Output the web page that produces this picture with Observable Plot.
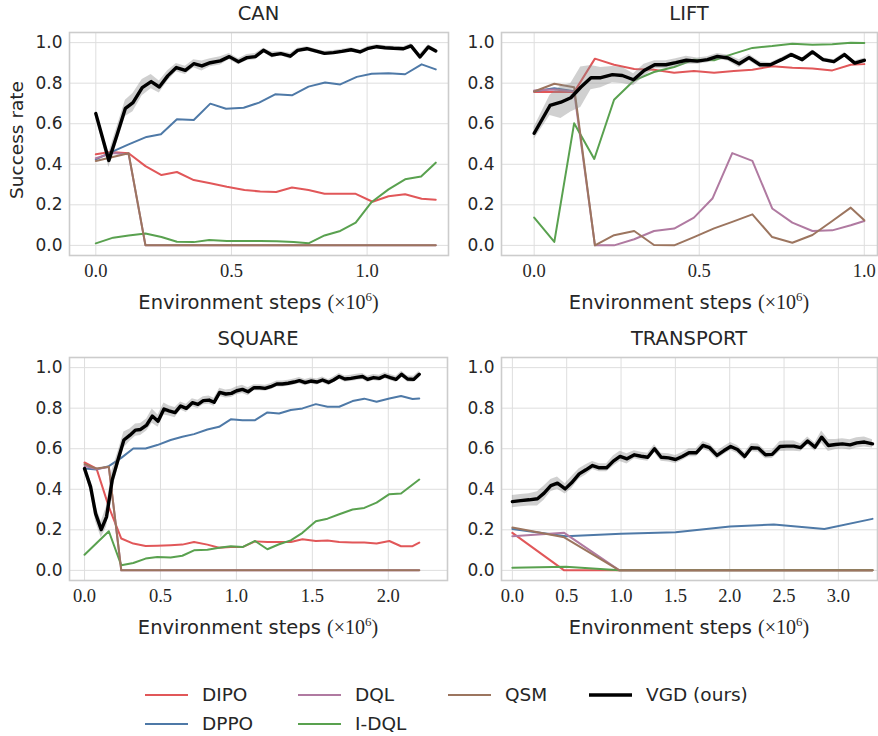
<!DOCTYPE html>
<html>
<head>
<meta charset="utf-8">
<script src="https://cdn.jsdelivr.net/npm/d3@7"></script>
<script src="https://cdn.jsdelivr.net/npm/@observablehq/plot@0.6"></script>
<style>
  html, body { margin: 0; padding: 0; background: #ffffff; }
  #root { position: relative; width: 878px; height: 736px; font-family: "DejaVu Sans", sans-serif; color: #262626; overflow: hidden; }
  .panel { position: absolute; }
  .panel svg { overflow: visible; }
  .title { position: absolute; text-align: center; font-size: 19.5px; line-height: 24px; white-space: nowrap; }
  .xlabel { position: absolute; text-align: center; font-size: 19.5px; line-height: 24px; white-space: nowrap; }
  .xlabel .m { font-family: "Liberation Serif", serif; font-size: 20px; }
  .xlabel sup { font-size: 13px; }
  .ylabel { position: absolute; font-size: 18.5px; line-height: 22px; white-space: nowrap; transform: rotate(-90deg); transform-origin: center center; }
  .leg { position: absolute; display: flex; align-items: center; font-size: 18.5px; line-height: 24px; white-space: nowrap; }
</style>
</head>
<body>
<div id="root"></div>
<script>
// ---------- legend / series meta ----------
const methods = ["DIPO", "DPPO", "DQL", "I-DQL", "QSM", "VGD (ours)"];
const colors  = ["#e15759", "#4e79a7", "#b07aa1", "#59a14f", "#9c755f", "#000000"];
const yTicks = [0.0, 0.2, 0.4, 0.6, 0.8, 1.0];

// ---------- CAN ----------
const canTicksX = [0.0, 0.5, 1.0];
const canVgdX = [0,0.048,0.079,0.109,0.137,0.171,0.204,0.234,0.265,0.297,0.330,0.361,0.391,0.422,0.459,0.492,0.526,0.557,0.588,0.618,0.649,0.682,0.717,0.744,0.778,0.809,0.843,0.876,0.907,0.941,0.974,1.005,1.036,1.066,1.097,1.134,1.162,1.195,1.226,1.253];
const canVgdY = [0.650,0.419,0.548,0.676,0.704,0.778,0.808,0.781,0.836,0.877,0.863,0.896,0.885,0.901,0.910,0.931,0.906,0.926,0.931,0.962,0.939,0.946,0.933,0.962,0.970,0.959,0.947,0.951,0.957,0.965,0.954,0.972,0.980,0.975,0.972,0.970,0.984,0.929,0.979,0.959];
const canVgdS = [0.015,0.035,0.04,0.04,0.045,0.04,0.035,0.03,0.025,0.02,0.02,0.02,0.025,0.02,0.02,0.015,0.015,0.015,0.015,0.01,0.015,0.01,0.015,0.01,0.01,0.01,0.01,0.01,0.01,0.01,0.01,0.01,0.01,0.01,0.01,0.01,0.01,0.015,0.01,0.01];
const canDppoX = [0,0.061,0.121,0.187,0.240,0.299,0.361,0.422,0.480,0.545,0.602,0.661,0.723,0.784,0.845,0.901,0.962,1.017,1.079,1.140,1.201,1.253];
const canDppoY = [0.424,0.462,0.498,0.535,0.548,0.622,0.618,0.699,0.674,0.679,0.704,0.745,0.740,0.783,0.803,0.794,0.831,0.847,0.849,0.844,0.893,0.868];
const canDipoX = [0,0.054,0.121,0.183,0.242,0.299,0.361,0.422,0.483,0.548,0.606,0.665,0.723,0.784,0.843,0.901,0.956,1.020,1.079,1.140,1.201,1.253];
const canDipoY = [0.449,0.461,0.454,0.391,0.347,0.362,0.322,0.306,0.289,0.273,0.266,0.263,0.285,0.273,0.255,0.255,0.255,0.215,0.242,0.252,0.230,0.225];
const canIdqlX = [0,0.064,0.121,0.183,0.242,0.299,0.361,0.418,0.483,0.545,0.606,0.667,0.729,0.784,0.843,0.901,0.958,1.017,1.079,1.140,1.199,1.253];
const canIdqlY = [0.010,0.038,0.049,0.059,0.041,0.018,0.016,0.026,0.021,0.021,0.021,0.020,0.016,0.010,0.049,0.071,0.112,0.214,0.276,0.326,0.340,0.408];
const canDqlX = [0,0.061,0.121,0.183,1.253];
const canDqlY = [0.430,0.455,0.450,0,0];
const canQsmX = [0,0.121,0.183,1.253];
const canQsmY = [0.416,0.454,0,0];

// ---------- LIFT ----------
const liftTicksX = [0.0, 0.5, 1.0];
const liftVgdX = [0,0.048,0.081,0.111,0.141,0.172,0.202,0.237,0.267,0.301,0.333,0.365,0.399,0.429,0.461,0.494,0.525,0.555,0.587,0.621,0.651,0.684,0.716,0.749,0.779,0.812,0.843,0.875,0.908,0.940,0.971,1.0];
const liftVgdY = [0.553,0.690,0.706,0.728,0.780,0.827,0.827,0.842,0.838,0.817,0.863,0.891,0.891,0.901,0.913,0.909,0.916,0.932,0.924,0.896,0.926,0.891,0.891,0.916,0.941,0.916,0.954,0.916,0.906,0.941,0.899,0.913];
const liftVgdS = [0.03,0.05,0.08,0.07,0.1,0.06,0.05,0.04,0.04,0.03,0.03,0.02,0.02,0.02,0.02,0.015,0.015,0.015,0.015,0.02,0.015,0.015,0.01,0.01,0.01,0.01,0.01,0.01,0.01,0.01,0.01,0.01];
const liftDipoX = [0,0.061,0.121,0.184,0.242,0.303,0.363,0.424,0.484,0.545,0.605,0.661,0.721,0.782,0.843,0.903,0.959,1.0];
const liftDipoY = [0.756,0.756,0.756,0.921,0.891,0.870,0.866,0.851,0.860,0.851,0.860,0.866,0.884,0.876,0.873,0.863,0.891,0.894];
const liftDppoX = [0,0.061,0.121];
const liftDppoY = [0.760,0.775,0.760];
const liftDqlX = [0,0.061,0.121,0.184,0.242,0.303,0.363,0.424,0.484,0.540,0.600,0.661,0.721,0.782,0.843,0.903,0.959,1.0];
const liftDqlY = [0.764,0.769,0.759,0,0,0.030,0.071,0.083,0.137,0.231,0.455,0.417,0.182,0.112,0.071,0.074,0.099,0.120];
const liftIdqlX = [0,0.061,0.121,0.182,0.242,0.303,0.363,0.424,0.484,0.545,0.605,0.661,0.721,0.782,0.843,0.903,0.959,1.0];
const liftIdqlY = [0.137,0.017,0.602,0.426,0.718,0.814,0.855,0.880,0.916,0.913,0.946,0.974,0.983,0.995,0.990,0.992,1.0,0.998];
const liftQsmX = [0,0.061,0.121,0.184,0.242,0.303,0.363,0.424,0.484,0.545,0.600,0.661,0.721,0.782,0.843,0.903,0.959,1.0];
const liftQsmY = [0.759,0.797,0.780,0,0.050,0.071,0.002,0,0.041,0.084,0.116,0.153,0.041,0.013,0.051,0.120,0.186,0.124];

// ---------- SQUARE ----------
const squareTicksX = [0.0, 0.5, 1.0, 1.5, 2.0];
const squareVgdX = [0,0.040,0.073,0.110,0.145,0.182,0.220,0.259,0.299,0.336,0.369,0.409,0.446,0.484,0.523,0.556,0.596,0.633,0.670,0.710,0.747,0.782,0.820,0.853,0.890,0.930,0.967,1.002,1.040,1.077,1.116,1.154,1.189,1.226,1.266,1.303,1.341,1.380,1.415,1.453,1.490,1.530,1.567,1.607,1.640,1.677,1.714,1.754,1.791,1.831,1.864,1.903,1.941,1.978,2.013,2.051,2.088,2.127,2.167,2.204];
const squareVgdY = [0.502,0.412,0.280,0.201,0.264,0.445,0.544,0.643,0.667,0.692,0.695,0.717,0.761,0.736,0.796,0.787,0.778,0.811,0.799,0.827,0.819,0.837,0.840,0.829,0.878,0.870,0.873,0.886,0.893,0.881,0.901,0.901,0.898,0.906,0.919,0.919,0.923,0.929,0.936,0.926,0.934,0.929,0.939,0.927,0.939,0.956,0.944,0.947,0.952,0.956,0.942,0.951,0.947,0.960,0.951,0.942,0.967,0.944,0.942,0.967];
const squareVgdS = [0.01,0.03,0.04,0.04,0.05,0.05,0.04,0.04,0.03,0.03,0.03,0.03,0.035,0.03,0.03,0.025,0.025,0.02,0.02,0.02,0.02,0.02,0.02,0.02,0.02,0.02,0.02,0.02,0.02,0.02,0.015,0.015,0.015,0.015,0.015,0.015,0.015,0.015,0.015,0.015,0.015,0.015,0.015,0.015,0.015,0.015,0.015,0.015,0.015,0.015,0.015,0.015,0.015,0.015,0.015,0.015,0.015,0.015,0.015,0.015];
const squareDppoX = [0,0.079,0.160,0.242,0.321,0.402,0.479,0.567,0.644,0.721,0.809,0.886,0.963,1.040,1.123,1.204,1.281,1.358,1.435,1.523,1.600,1.677,1.765,1.842,1.923,2.007,2.084,2.160,2.204];
const squareDppoY = [0.502,0.498,0.514,0.555,0.601,0.601,0.618,0.643,0.659,0.672,0.695,0.708,0.745,0.741,0.741,0.779,0.774,0.791,0.799,0.820,0.807,0.807,0.835,0.847,0.832,0.848,0.860,0.845,0.848];
const squareDipoX = [0,0.079,0.160,0.242,0.321,0.402,0.479,0.567,0.644,0.721,0.809,0.886,0.963,1.040,1.123,1.204,1.281,1.358,1.435,1.523,1.600,1.677,1.765,1.842,1.923,2.007,2.084,2.160,2.204];
const squareDipoY = [0.532,0.502,0.313,0.157,0.132,0.120,0.122,0.124,0.127,0.140,0.127,0.112,0.115,0.115,0.143,0.140,0.140,0.140,0.153,0.145,0.147,0.140,0.137,0.137,0.133,0.145,0.119,0.119,0.137];
const squareIdqlX = [0,0.160,0.242,0.321,0.402,0.479,0.567,0.644,0.721,0.809,0.886,0.963,1.040,1.123,1.204,1.281,1.358,1.435,1.523,1.600,1.677,1.765,1.842,1.923,2.007,2.084,2.204];
const squareIdqlY = [0.077,0.193,0.025,0.036,0.058,0.066,0.063,0.072,0.099,0.102,0.112,0.119,0.115,0.145,0.104,0.129,0.148,0.185,0.242,0.255,0.277,0.300,0.308,0.334,0.376,0.379,0.448];
const squareDqlX = [0,0.079,0.160,0.242,2.204];
const squareDqlY = [0.515,0.500,0.510,0,0];
const squareQsmX = [0,0.079,0.160,0.242,2.204];
const squareQsmY = [0.524,0.502,0.511,0,0];

// ---------- TRANSPORT ----------
const transportTicksX = [0.0, 0.5, 1.0, 1.5, 2.0, 2.5, 3.0];
const transportVgdX = [0,0.077,0.154,0.231,0.292,0.354,0.415,0.486,0.545,0.615,0.677,0.738,0.800,0.868,0.929,0.991,1.055,1.123,1.185,1.246,1.308,1.369,1.437,1.502,1.563,1.625,1.692,1.754,1.815,1.883,1.948,2.009,2.071,2.138,2.200,2.262,2.329,2.391,2.462,2.523,2.591,2.652,2.717,2.785,2.846,2.908,2.975,3.037,3.108,3.169,3.240,3.314];
const transportVgdY = [0.339,0.344,0.348,0.353,0.381,0.418,0.430,0.402,0.432,0.476,0.496,0.517,0.506,0.506,0.539,0.562,0.550,0.570,0.563,0.558,0.600,0.558,0.555,0.547,0.562,0.580,0.580,0.616,0.605,0.567,0.591,0.611,0.596,0.562,0.605,0.603,0.570,0.572,0.611,0.613,0.613,0.605,0.638,0.608,0.657,0.616,0.621,0.624,0.619,0.629,0.633,0.624];
const transportVgdS = [0.03,0.03,0.03,0.035,0.035,0.03,0.03,0.025,0.03,0.025,0.025,0.02,0.02,0.02,0.025,0.025,0.025,0.02,0.02,0.02,0.02,0.02,0.02,0.02,0.02,0.02,0.02,0.02,0.02,0.02,0.02,0.02,0.02,0.02,0.02,0.02,0.02,0.02,0.025,0.025,0.025,0.02,0.02,0.02,0.03,0.03,0.025,0.025,0.025,0.025,0.025,0.02];
const transportDppoX = [0,0.492,1.0,1.502,2.003,2.406,2.871,3.314];
const transportDppoY = [0.204,0.168,0.180,0.188,0.216,0.226,0.204,0.254];
const transportDipoX = [0,0.477,3.314];
const transportDipoY = [0.185,0,0];
const transportDqlX = [0,0.477,0.985,3.314];
const transportDqlY = [0.168,0.185,0,0];
const transportIdqlX = [0,0.492,0.985,3.314];
const transportIdqlY = [0.013,0.018,0,0];
const transportQsmX = [0,0.477,0.985,3.314];
const transportQsmY = [0.211,0.163,0,0];

// ---------- helpers ----------
const zip = (xs, ys, ss) => xs.map((x, i) => ({x, y: ys[i], s: ss ? ss[i] : 0}));
const root = document.getElementById("root");

function addPanel(cfg) {
  const marks = [
    Plot.gridX(cfg.ticksX, {stroke: "#dedede", strokeOpacity: 1, strokeWidth: 1}),
    Plot.gridY(yTicks, {stroke: "#dedede", strokeOpacity: 1, strokeWidth: 1}),
    Plot.frame({stroke: "#cccccc", strokeWidth: 1.6}),
    Plot.axisY(yTicks, {tickSize: 0, tickPadding: 7, tickFormat: d => d.toFixed(1), fontSize: 17, fontFamily: "DejaVu Sans", fill: "#262626", label: null}),
    Plot.axisX(cfg.ticksX, {tickSize: 0, tickPadding: 8, tickFormat: d => d.toFixed(1), fontSize: 18.5, fontFamily: "Liberation Serif", fill: "#262626", label: null})
  ];
  cfg.series.forEach(([xs, ys, idx]) => {
    marks.push(Plot.line(zip(xs, ys), {x: "x", y: "y", stroke: colors[idx], strokeWidth: 2}));
  });
  const vgd = zip(cfg.vgd[0], cfg.vgd[1], cfg.vgd[2]);
  marks.push(Plot.areaY(vgd, {x: "x", y1: d => d.y - d.s, y2: d => d.y + d.s, fill: "#8a8a8a", fillOpacity: 0.4}));
  marks.push(Plot.line(vgd, {x: "x", y: "y", stroke: colors[5], strokeWidth: 3.4, strokeLinejoin: "round"}));

  const svg = Plot.plot({
    width: cfg.w, height: cfg.h,
    marginLeft: cfg.ml, marginRight: cfg.mr, marginTop: cfg.mt, marginBottom: cfg.mb,
    x: {domain: cfg.domainX, axis: null},
    y: {domain: [-0.05, 1.05], axis: null},
    style: {background: "transparent", overflow: "visible"},
    marks
  });
  const wrap = document.createElement("div");
  wrap.className = "panel";
  wrap.style.left = cfg.left + "px";
  wrap.style.top = cfg.top + "px";
  wrap.appendChild(svg);
  root.appendChild(wrap);

  const fx0 = cfg.left + cfg.ml, fx1 = cfg.left + cfg.w - cfg.mr;
  const t = document.createElement("div");
  t.className = "title";
  t.textContent = cfg.title;
  t.style.left = fx0 + "px"; t.style.width = (fx1 - fx0) + "px";
  t.style.top = (cfg.top + cfg.mt - 30) + "px";
  root.appendChild(t);

  const xl = document.createElement("div");
  xl.className = "xlabel";
  xl.innerHTML = 'Environment steps <span class="m">(×10<sup>6</sup>)</span>';
  xl.style.left = fx0 + "px"; xl.style.width = (fx1 - fx0) + "px";
  xl.style.top = (cfg.top + cfg.h - cfg.mb + 30) + "px";
  root.appendChild(xl);
}

addPanel({title: "CAN", left: 0, top: 0, w: 450, h: 310, ml: 69, mr: 2, mt: 32, mb: 55,
  domainX: [-0.097, 1.30], ticksX: canTicksX,
  series: [[canDipoX, canDipoY, 0], [canDppoX, canDppoY, 1], [canDqlX, canDqlY, 2], [canIdqlX, canIdqlY, 3], [canQsmX, canQsmY, 4]],
  vgd: [canVgdX, canVgdY, canVgdS]});

addPanel({title: "LIFT", left: 440, top: 0, w: 438, h: 310, ml: 61, mr: 1, mt: 32, mb: 55,
  domainX: [-0.099, 1.04], ticksX: liftTicksX,
  series: [[liftDipoX, liftDipoY, 0], [liftDppoX, liftDppoY, 1], [liftDqlX, liftDqlY, 2], [liftIdqlX, liftIdqlY, 3], [liftQsmX, liftQsmY, 4]],
  vgd: [liftVgdX, liftVgdY, liftVgdS]});

addPanel({title: "SQUARE", left: 0, top: 320, w: 450, h: 320, ml: 69, mr: 3, mt: 37, mb: 60,
  domainX: [-0.099, 2.39], ticksX: squareTicksX,
  series: [[squareDipoX, squareDipoY, 0], [squareDppoX, squareDppoY, 1], [squareDqlX, squareDqlY, 2], [squareIdqlX, squareIdqlY, 3], [squareQsmX, squareQsmY, 4]],
  vgd: [squareVgdX, squareVgdY, squareVgdS]});

addPanel({title: "TRANSPORT", left: 440, top: 320, w: 438, h: 320, ml: 61, mr: 1, mt: 37, mb: 60,
  domainX: [-0.10, 3.36], ticksX: transportTicksX,
  series: [[transportDipoX, transportDipoY, 0], [transportDppoX, transportDppoY, 1], [transportDqlX, transportDqlY, 2], [transportIdqlX, transportIdqlY, 3], [transportQsmX, transportQsmY, 4]],
  vgd: [transportVgdX, transportVgdY, transportVgdS]});

// y label (only on CAN)
const yl = document.createElement("div");
yl.className = "ylabel";
yl.textContent = "Success rate";
yl.style.width = "120px"; yl.style.textAlign = "center";
yl.style.left = (17 - 60) + "px";
yl.style.top = (140 - 11) + "px";
root.appendChild(yl);

// legend: matplotlib ncol=4, filled column-major (2,2,1,1)
const legCols = [145, 298, 448, 589];
const legRows = [695, 724];
const legSlots = [[0, 0], [0, 1], [1, 0], [1, 1], [2, 0], [3, 0]];
methods.forEach((name, i) => {
  const [col, row] = legSlots[i];
  const d = document.createElement("div");
  d.className = "leg";
  d.style.left = legCols[col] + "px";
  d.style.top = (legRows[row] - 12) + "px";
  const sw = i === 5 ? 3.4 : 2.2;
  d.innerHTML = `<svg width="43" height="24" style="margin-right:14px"><line x1="0" x2="43" y1="12" y2="12" stroke="${colors[i]}" stroke-width="${sw}"/></svg><span>${name}</span>`;
  root.appendChild(d);
});
</script>
</body>
</html>
